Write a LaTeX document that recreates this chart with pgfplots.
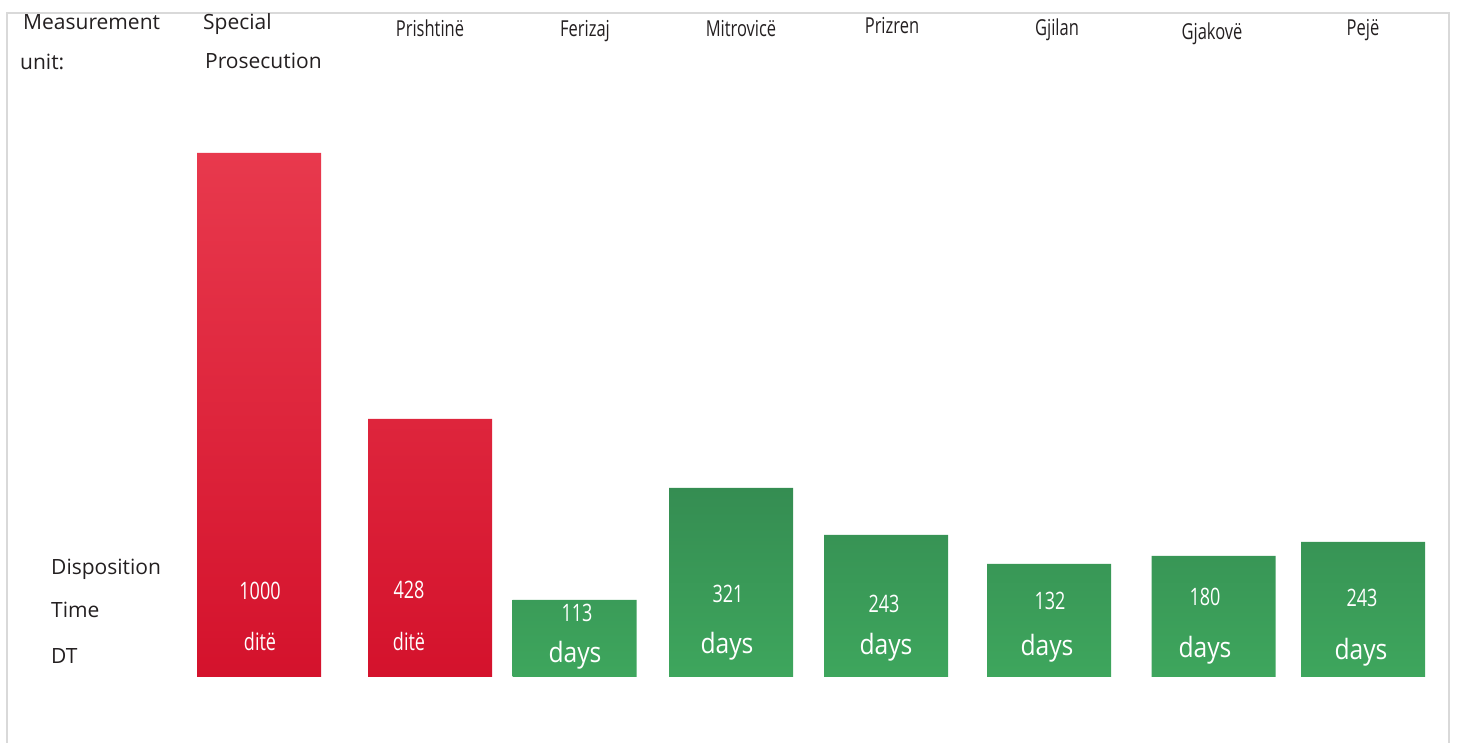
\documentclass[border=0pt]{standalone}
\usepackage{fontspec}
\setmainfont{Open Sans}
\newfontfamily\condfont[FakeStretch=0.75]{Open Sans}
\newfontfamily\daysfont[FakeStretch=0.88]{Open Sans}
\usepackage{pgfplots}
\usepackage{pgfplotstable}
\pgfplotsset{compat=1.18}
\definecolor{redtop}{HTML}{E8394D}
\definecolor{redbot}{HTML}{D4122C}
\definecolor{greentop}{HTML}{358D52}
\definecolor{greenbot}{HTML}{3EA65D}
\definecolor{framegray}{HTML}{D9D9D9}
\definecolor{txt}{HTML}{231F20}

% bar heights as drawn (pixel-scaled), baseline at 0
\pgfplotstableread{
x h
259 524
430 258
}\redtable
\pgfplotstableread{
x h
574.5 77
731 189
886 142
1049 113
1213.5 121
1363 135
}\greentable

\newcommand{\lab}{\fontsize{21bp}{25bp}\selectfont}
\newcommand{\city}{\condfont\fontsize{22bp}{26bp}\selectfont}
\newcommand{\num}{\condfont\fontsize{24bp}{28bp}\selectfont}
\newcommand{\unitd}{\daysfont\fontsize{28bp}{32bp}\selectfont}

\begin{document}
\begin{tikzpicture}
\begin{axis}[
  x=1bp, y=1bp,
  xmin=0, xmax=1458, ymin=-66, ymax=677,
  hide axis, clip=false,
  bar width=124, bar shift=0,
]
\draw[framegray, line width=1.5bp] (axis cs:7,-66) -- (axis cs:7,664) -- (axis cs:1449,664) -- (axis cs:1449,-66);

\addplot[ybar, bar width=124, bar shift=0, draw=none, top color=redtop, bottom color=redbot] table[x=x, y=h] {\redtable};
\addplot[ybar, bar width=124, bar shift=0, draw=none, top color=greentop, bottom color=greenbot] table[x=x, y=h] {\greentable};

% left labels
\node[anchor=base west, txt, inner sep=0] at (axis cs:23,647) {\lab Measurement};
\node[anchor=base west, txt, inner sep=0] at (axis cs:20,607) {\lab unit:};
\node[anchor=base west, txt, inner sep=0] at (axis cs:203,647) {\lab Special};
\node[anchor=base west, txt, inner sep=0] at (axis cs:205,608) {\lab Prosecution};
\node[anchor=base west, txt, inner sep=0] at (axis cs:51,102) {\lab Disposition};
\node[anchor=base west, txt, inner sep=0] at (axis cs:51,59) {\lab Time};
\node[anchor=base west, txt, inner sep=0] at (axis cs:51,13) {\lab DT};

% city names
\node[anchor=base, txt, inner sep=0] at (axis cs:430,640) {\city Prishtinë};
\node[anchor=base, txt, inner sep=0] at (axis cs:585,640) {\city Ferizaj};
\node[anchor=base, txt, inner sep=0] at (axis cs:741,640) {\city Mitrovicë};
\node[anchor=base, txt, inner sep=0] at (axis cs:892,643) {\city Prizren};
\node[anchor=base, txt, inner sep=0] at (axis cs:1057,641) {\city Gjilan};
\node[anchor=base, txt, inner sep=0] at (axis cs:1212,637) {\city Gjakovë};
\node[anchor=base, txt, inner sep=0] at (axis cs:1363,641) {\city Pejë};

% values
\node[anchor=base, white, inner sep=0] at (axis cs:260,77) {\num 1000};
\node[anchor=base, white, inner sep=0] at (axis cs:260,26) {\num ditë};
\node[anchor=base, white, inner sep=0] at (axis cs:409,78) {\num 428};
\node[anchor=base, white, inner sep=0] at (axis cs:409,26) {\num ditë};
\node[anchor=base, white, inner sep=0] at (axis cs:577,55) {\num 113};
\node[anchor=base, white, inner sep=0] at (axis cs:575,14) {\unitd days};
\node[anchor=base, white, inner sep=0] at (axis cs:728,74) {\num 321};
\node[anchor=base, white, inner sep=0] at (axis cs:727,23) {\unitd days};
\node[anchor=base, white, inner sep=0] at (axis cs:884,64) {\num 243};
\node[anchor=base, white, inner sep=0] at (axis cs:886,22) {\unitd days};
\node[anchor=base, white, inner sep=0] at (axis cs:1050,67) {\num 132};
\node[anchor=base, white, inner sep=0] at (axis cs:1047,21) {\unitd days};
\node[anchor=base, white, inner sep=0] at (axis cs:1205,71) {\num 180};
\node[anchor=base, white, inner sep=0] at (axis cs:1205,19) {\unitd days};
\node[anchor=base, white, inner sep=0] at (axis cs:1362,70) {\num 243};
\node[anchor=base, white, inner sep=0] at (axis cs:1361,17) {\unitd days};
\end{axis}
\pgfresetboundingbox
\path (current axis.south west) rectangle (current axis.north east);
\end{tikzpicture}
\end{document}
